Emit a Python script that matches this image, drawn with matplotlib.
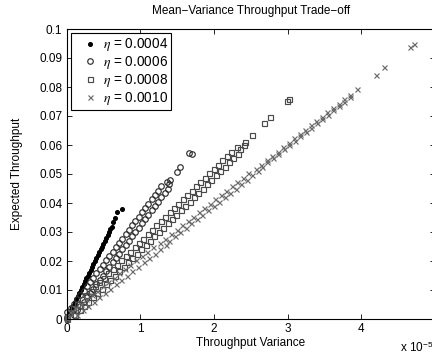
import numpy as np
import matplotlib
matplotlib.use('Agg')
import matplotlib.pyplot as plt

plt.rcParams['font.family'] = ['Liberation Sans', 'DejaVu Sans']
plt.rcParams['mathtext.fontset'] = 'stix'

# step sizes of the four runs
etas = ['0.0004', '0.0006', '0.0008', '0.0010']

# eta = 0.0004: throughput variance (units of 1e-5) and expected throughput
var_1 = [0.0, 0.019, 0.039, 0.058, 0.077, 0.096, 0.116, 0.135, 0.154, 0.173, 0.193,
         0.212, 0.231, 0.251, 0.270, 0.289, 0.308, 0.328, 0.347, 0.366, 0.385,
         0.405, 0.424, 0.443, 0.462, 0.482, 0.501, 0.520, 0.540, 0.559, 0.578,
         0.597, 0.613, 0.636, 0.658, 0.681, 0.749]
mean_1 = [0.0, 0.001, 0.002, 0.003, 0.004, 0.005, 0.006, 0.007, 0.008, 0.009, 0.010,
          0.011, 0.012, 0.013, 0.014, 0.015, 0.016, 0.017, 0.018, 0.019, 0.020,
          0.021, 0.022, 0.023, 0.024, 0.025, 0.026, 0.027, 0.028, 0.029, 0.030,
          0.031, 0.0318, 0.0336, 0.0349, 0.0368, 0.0380]

# expected-throughput levels sampled along the dense bands of the other runs
mean_grid = [0.0, 0.00075, 0.0015, 0.00225, 0.003, 0.00375, 0.0045, 0.00525, 0.006,
             0.00675, 0.0075, 0.00825, 0.009, 0.00975, 0.0105, 0.01125, 0.012,
             0.01275, 0.0135, 0.01425, 0.015, 0.01575, 0.0165, 0.01725, 0.018,
             0.01875, 0.0195, 0.02025, 0.021, 0.02175, 0.0225, 0.02325, 0.024,
             0.02475, 0.0255, 0.02625, 0.027, 0.02775, 0.0285, 0.02925, 0.030,
             0.03075, 0.0315, 0.03225, 0.033, 0.03375, 0.0345, 0.03525, 0.036,
             0.03675, 0.0375, 0.03825, 0.039, 0.03975, 0.0405, 0.04125, 0.042,
             0.04275, 0.0435, 0.04425, 0.045, 0.04575, 0.0465, 0.04725, 0.048,
             0.04875, 0.0495, 0.05025, 0.051, 0.05175, 0.0525, 0.05325, 0.054,
             0.05475, 0.0555, 0.05625, 0.057, 0.05775, 0.0585, 0.05925, 0.060,
             0.06075, 0.0615, 0.06225, 0.063, 0.06375, 0.0645, 0.06525, 0.066,
             0.06675, 0.0675, 0.06825, 0.069, 0.06975, 0.0705, 0.07125, 0.072,
             0.07275, 0.0735, 0.07425, 0.075, 0.07575, 0.0765]

# eta = 0.0006
band_var_2 = [0.0, 0.002, 0.099, 0.011, 0.143, 0.055, 0.187, 0.099, 0.231, 0.143,
              0.275, 0.187, 0.319, 0.231, 0.363, 0.275, 0.407, 0.319, 0.451, 0.363,
              0.495, 0.407, 0.539, 0.451, 0.583, 0.495, 0.627, 0.539, 0.671, 0.583,
              0.715, 0.627, 0.759, 0.671, 0.803, 0.715, 0.847, 0.759, 0.891, 0.803,
              0.935, 0.847, 0.979, 0.891, 1.023, 0.935, 1.067, 0.979, 1.111, 1.023,
              1.155, 1.067, 1.199, 1.111, 1.243, 1.155, 1.287, 1.199, 1.331, 1.243,
              1.375, 1.287, 1.390]
tail_var_2 = [1.370, 1.404, 1.495, 1.540, 1.662, 1.703]
tail_mean_2 = [0.0472, 0.0479, 0.0508, 0.0525, 0.0573, 0.0568]

# eta = 0.0008
band_var_3 = [0.0, 0.0, 0.120, 0.029, 0.179, 0.089, 0.239, 0.149, 0.298, 0.208,
              0.358, 0.268, 0.418, 0.327, 0.477, 0.387, 0.537, 0.447, 0.596, 0.506,
              0.656, 0.566, 0.716, 0.625, 0.775, 0.685, 0.835, 0.745, 0.894, 0.804,
              0.954, 0.864, 1.014, 0.923, 1.073, 0.983, 1.133, 1.043, 1.192, 1.102,
              1.252, 1.162, 1.312, 1.221, 1.371, 1.281, 1.431, 1.341, 1.490, 1.400,
              1.550, 1.460, 1.610, 1.519, 1.669, 1.579, 1.729, 1.639, 1.788, 1.698,
              1.848, 1.758, 1.908, 1.817, 1.967, 1.877, 2.027, 1.937, 2.086, 1.996,
              2.146, 2.056, 2.206, 2.115, 2.265, 2.175, 2.325, 2.235, 2.360, 2.310,
              2.410]
tail_var_3 = [2.420, 2.513, 2.680, 2.760, 2.990, 3.020]
tail_mean_3 = [0.0611, 0.0634, 0.0675, 0.0695, 0.0752, 0.0759]

# eta = 0.0010
band_var_4 = [0.0, 0.0, 0.145, 0.043, 0.220, 0.118, 0.295, 0.193, 0.370, 0.268,
              0.445, 0.343, 0.520, 0.418, 0.595, 0.493, 0.670, 0.568, 0.745, 0.643,
              0.820, 0.718, 0.895, 0.793, 0.970, 0.868, 1.045, 0.943, 1.120, 1.018,
              1.195, 1.093, 1.270, 1.168, 1.345, 1.268, 1.395, 1.343, 1.470, 1.418,
              1.545, 1.493, 1.620, 1.568, 1.695, 1.643, 1.770, 1.718, 1.845, 1.793,
              1.920, 1.868, 1.995, 1.943, 2.070, 2.018, 2.145, 2.093, 2.220, 2.168,
              2.295, 2.243, 2.370, 2.318, 2.445, 2.393, 2.520, 2.468, 2.595, 2.566,
              2.647, 2.641, 2.722, 2.716, 2.797, 2.791, 2.872, 2.866, 2.947, 2.941,
              3.022, 3.016, 3.097, 3.091, 3.172, 3.166, 3.247, 3.241, 3.322, 3.316,
              3.397, 3.391, 3.472, 3.466, 3.547, 3.541, 3.622, 3.616, 3.697, 3.691,
              3.772, 3.766, 3.847]
tail_var_4 = [3.850, 3.940, 4.195, 4.310, 4.660, 4.710]
tail_mean_4 = [0.0772, 0.0792, 0.0841, 0.0870, 0.0939, 0.0948]

var_2 = band_var_2 + tail_var_2
mean_2 = mean_grid[:len(band_var_2)] + tail_mean_2
var_3 = band_var_3 + tail_var_3
mean_3 = mean_grid[:len(band_var_3)] + tail_mean_3
var_4 = band_var_4 + tail_var_4
mean_4 = mean_grid[:len(band_var_4)] + tail_mean_4

xtick_vals = [0, 1, 2, 3, 4]
ytick_vals = [0, 0.01, 0.02, 0.03, 0.04, 0.05, 0.06, 0.07, 0.08, 0.09, 0.1]
ytick_labels = ['0', '0.01', '0.02', '0.03', '0.04', '0.05', '0.06', '0.07',
                '0.08', '0.09', '0.1']

series = [(var_1, mean_1, '.', 'black', 5.5),
          (var_2, mean_2, 'o', '#2e2e2e', 4),
          (var_3, mean_3, 's', '#4a4a4a', 3.6),
          (var_4, mean_4, 'x', '#6a6a6a', 3.6)]

fs = 8.5
fig = plt.figure(figsize=(4.32, 3.54), dpi=100)
ax = fig.add_axes([66.5 / 432, 35 / 354, 368.5 / 432, 290 / 354])

for (vx, my, mk, col, ms), eta in zip(series, etas):
    vx = np.array(vx) * 1e-5
    ax.plot(vx, my, linestyle='none', marker=mk, ms=ms, mfc='none' if mk in 'os' else col,
            mec=col, mew=0.85, color=col, clip_on=False,
            label=r'$\eta$ = ' + eta)

ax.set_xlim(0, 5e-5)
ax.set_ylim(0, 0.1)
ax.set_xticks(np.array(xtick_vals) * 1e-5)
ax.set_xticklabels([str(v) for v in xtick_vals])
ax.set_yticks(ytick_vals)
ax.set_yticklabels(ytick_labels)
ax.tick_params(direction='in', top=True, right=True, length=3.5, width=0.6,
               labelsize=fs, pad=3)
for sp in ax.spines.values():
    sp.set_linewidth(0.8)

ax.set_title('Mean\u2212Variance Throughput Trade\u2212off', fontsize=fs, pad=11)
ax.set_xlabel('Throughput Variance', fontsize=fs, labelpad=1)
ax.set_ylabel('Expected Throughput', fontsize=fs, labelpad=12)
fig.text(400 / 432, 2 / 354, r'x 10$^{\mathregular{-5}}$', fontsize=fs,
         ha='left', va='baseline')

leg = ax.legend(loc='upper left', fontsize=9.8, frameon=True, fancybox=False,
                edgecolor='black', framealpha=1, borderaxespad=0.3,
                borderpad=0.25, handlelength=2.3, handletextpad=-0.2,
                labelspacing=0.05, numpoints=1)
leg.get_frame().set_linewidth(0.8)

fig.savefig('out.png', dpi=100)
